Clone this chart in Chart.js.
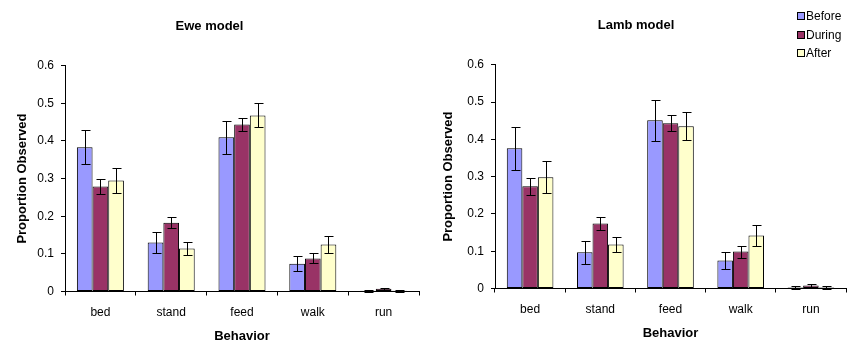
<!DOCTYPE html>
<html>
<head>
<meta charset="utf-8">
<script src="https://cdn.jsdelivr.net/npm/chart.js@4/dist/chart.umd.min.js"></script>
<style>
  html, body { margin:0; padding:0; background:#fff; }
  #wrap { position:relative; width:852px; height:358px; overflow:hidden; background:#fff; }
  canvas { position:absolute; top:0; }
  #c1 { left:0; }
  #c2 { left:426px; }
  #legend { position:absolute; left:797px; top:9px; font:12px "Liberation Sans", Arial, sans-serif; color:#000; }
  #legend .item { height:18.7px; line-height:14px; white-space:nowrap; }
  #legend .box { display:inline-block; width:6px; height:6px; border:1px solid #000; margin-right:1px; vertical-align:0px; }
</style>
</head>
<body>
<div id="wrap">
  <canvas id="c1" width="426" height="358"></canvas>
  <canvas id="c2" width="426" height="358"></canvas>
  <div id="legend"></div>
</div>
<script>
const categories = ['bed', 'stand', 'feed', 'walk', 'run'];
const seriesNames = ['Before', 'During', 'After'];
const yTickLabels = ['0', '0.1', '0.2', '0.3', '0.4', '0.5', '0.6'];

// Ewe model
const eweBefore = [0.383, 0.130, 0.410, 0.074, 0.002];
const eweDuring = [0.279, 0.183, 0.444, 0.088, 0.007];
const eweAfter  = [0.295, 0.114, 0.468, 0.125, 0.002];
const eweBeforeErr = [0.045, 0.028, 0.044, 0.020, 0.002];
const eweDuringErr = [0.019, 0.015, 0.018, 0.013, 0.002];
const eweAfterErr  = [0.033, 0.017, 0.032, 0.023, 0.002];

// Lamb model
const lambBefore = [0.376, 0.097, 0.451, 0.075, 0.003];
const lambDuring = [0.274, 0.174, 0.443, 0.099, 0.008];
const lambAfter  = [0.298, 0.118, 0.435, 0.142, 0.003];
const lambBeforeErr = [0.058, 0.030, 0.055, 0.024, 0.005];
const lambDuringErr = [0.023, 0.017, 0.022, 0.016, 0.003];
const lambAfterErr  = [0.043, 0.021, 0.038, 0.027, 0.005];

const colors = ['#9999FF', '#993366', '#FFFFCC'];
const FONT = '"Liberation Sans", Arial, sans-serif';

const errorBars = {
  id: 'errorBars',
  afterDatasetsDraw(chart) {
    const ctx = chart.ctx;
    const y = chart.scales.y;
    ctx.save();
    ctx.strokeStyle = '#000';
    ctx.lineWidth = 1;
    chart.data.datasets.forEach((ds, di) => {
      const meta = chart.getDatasetMeta(di);
      meta.data.forEach((bar, i) => {
        const v = ds.data[i], e = ds.errors[i];
        const x = Math.round(bar.x) + 0.5;
        const yt = Math.round(y.getPixelForValue(v + e)) + 0.5;
        const yb = Math.round(y.getPixelForValue(Math.max(0, v - e))) + 0.5;
        ctx.beginPath();
        ctx.moveTo(x, yt); ctx.lineTo(x, yb);
        ctx.moveTo(x - 4, yt); ctx.lineTo(x + 5, yt);
        ctx.moveTo(x - 4, yb); ctx.lineTo(x + 5, yb);
        ctx.stroke();
      });
    });
    ctx.restore();
  }
};

function makeChart(id, titleText, series, errs, g) {
  const datasets = series.map((d, k) => ({
    label: seriesNames[k],
    data: d,
    errors: errs[k],
    backgroundColor: colors[k],
    borderColor: '#000',
    borderWidth: 1,
    borderSkipped: false,
    barPercentage: 1.0,
    categoryPercentage: 0.664
  }));
  return new Chart(document.getElementById(id), {
    type: 'bar',
    data: { labels: categories, datasets },
    plugins: [errorBars],
    options: {
      responsive: false,
      animation: false,
      devicePixelRatio: 1,
      layout: { padding: { left: 0, right: g.right, top: 0, bottom: 0 } },
      plugins: {
        legend: { display: false },
        tooltip: { enabled: false },
        title: {
          display: true, text: titleText, color: '#000',
          font: { family: FONT, size: 13, weight: 'bold', lineHeight: 1.2 },
          padding: { top: g.titleTop, bottom: g.titleBottom }
        }
      },
      scales: {
        x: {
          grid: { display: true, offset: true, drawOnChartArea: false, drawTicks: true, tickLength: 4, tickColor: '#000', lineWidth: 1 },
          border: { display: true, color: '#000', width: 1 },
          ticks: { color: '#000', font: { family: FONT, size: 12 }, padding: 10, maxRotation: 0 },
          title: { display: true, text: 'Behavior', color: '#000', font: { family: FONT, size: 13, weight: 'bold', lineHeight: 1.2 }, padding: { top: 0, bottom: g.xTitleBottom } },
          afterFit: s => { s.height = g.xHeight; }
        },
        y: {
          min: 0, max: 0.6,
          grid: { display: true, drawOnChartArea: false, drawTicks: true, tickLength: 4, tickColor: '#000' },
          border: { display: true, color: '#000', width: 1 },
          ticks: { stepSize: 0.1, color: '#000', font: { family: FONT, size: 12 }, padding: 7,
                   callback: (v, i) => yTickLabels[i] },
          title: { display: true, text: 'Proportion Observed', color: '#000', font: { family: FONT, size: 13, weight: 'bold', lineHeight: 1.2 }, padding: { top: 14.6, bottom: 0 } },
          afterFit: s => { s.width = g.yWidth; }
        }
      }
    }
  });
}

const c1 = makeChart('c1', 'Ewe model', [eweBefore, eweDuring, eweAfter], [eweBeforeErr, eweDuringErr, eweAfterErr],
  { right: 7, titleTop: 18.2, titleBottom: 31.9, xHeight: 66.5, xTitleBottom: 13.7, yWidth: 65 });
const c2 = makeChart('c2', 'Lamb model', [lambBefore, lambDuring, lambAfter], [lambBeforeErr, lambDuringErr, lambAfterErr],
  { right: 6, titleTop: 17.7, titleBottom: 31.4, xHeight: 69.5, xTitleBottom: 16.4, yWidth: 69 });

// HTML legend built from the chart's datasets
const legend = document.getElementById('legend');
c2.data.datasets.forEach(ds => {
  const item = document.createElement('div');
  item.className = 'item';
  const box = document.createElement('span');
  box.className = 'box';
  box.style.background = ds.backgroundColor;
  item.appendChild(box);
  item.appendChild(document.createTextNode(ds.label));
  legend.appendChild(item);
});
</script>
</body>
</html>
